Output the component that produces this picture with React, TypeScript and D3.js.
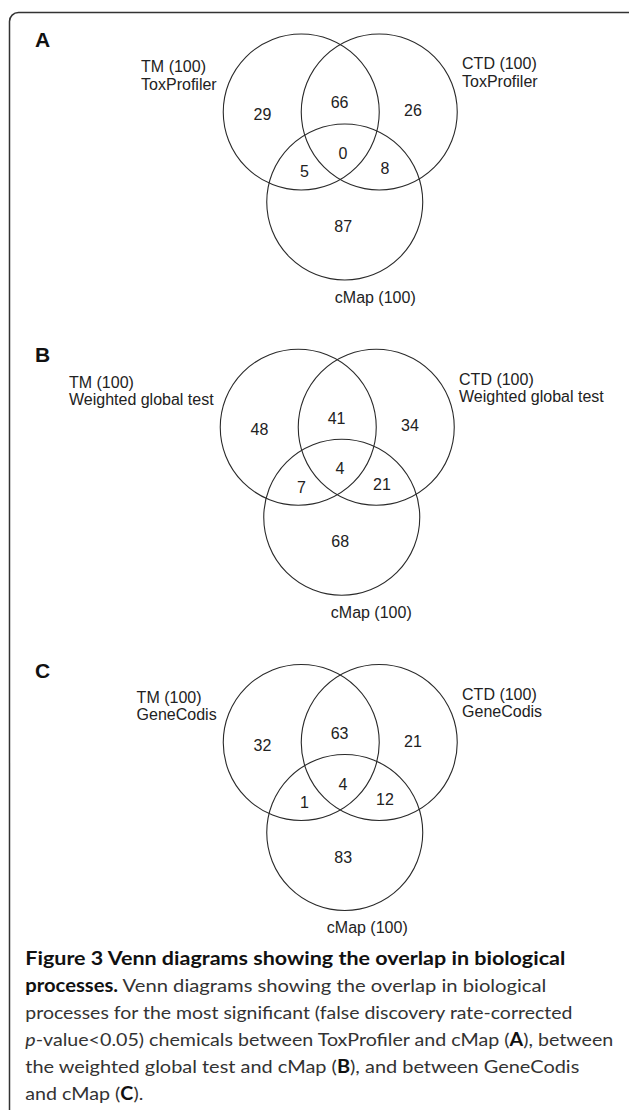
import React, { useEffect, useRef } from "react";
import * as d3 from "d3";

// ---- data ----
const panelLetters = ["A", "B", "C"];
const methodNames = ["ToxProfiler", "Weighted global test", "GeneCodis"];
const setNames = ["TM", "CTD", "cMap"];
const setSizes = [100, 100, 100];
const onlyTM = [29, 48, 32];
const onlyCTD = [26, 34, 21];
const onlyCMap = [87, 68, 83];
const tmAndCTD = [66, 41, 63];
const tmAndCMap = [5, 7, 1];
const ctdAndCMap = [8, 21, 12];
const allThree = [0, 4, 4];

const captionLines: { t: string; s?: "b" | "i" }[][] = [
  [{ t: "Figure 3 Venn diagrams showing the overlap in biological", s: "b" }],
  [{ t: "processes.", s: "b" }, { t: " Venn diagrams showing the overlap in biological" }],
  [{ t: "processes for the most significant (false discovery rate-corrected" }],
  [{ t: "p", s: "i" }, { t: "-value<0.05) chemicals between ToxProfiler and cMap (" }, { t: "A", s: "b" }, { t: "), between" }],
  [{ t: "the weighted global test and cMap (" }, { t: "B", s: "b" }, { t: "), and between GeneCodis" }],
  [{ t: "and cMap (" }, { t: "C", s: "b" }, { t: ")." }],
];
const captionWidths = [540, 521, 547, 588, 554, 118];

const W = 629;
const H = 1110;

export default function App() {
  const ref = useRef<SVGSVGElement | null>(null);

  useEffect(() => {
    document.body.style.margin = "0";
    const svg = d3.select(ref.current);
    svg.selectAll("*").remove();

    // frame
    svg
      .append("rect")
      .attr("x", 9.5)
      .attr("y", 12.5)
      .attr("width", 640)
      .attr("height", 1130)
      .attr("rx", 9)
      .attr("fill", "none")
      .attr("stroke", "#333")
      .attr("stroke-width", 1.5);

    const panelY = d3.scaleLinear().domain([0, 2]).range([112, 742.5]);
    const panelXShift = [0, -3, 0];
    const r = 78;
    const font = "'Liberation Sans', Arial, sans-serif";

    panelLetters.forEach((letter, i) => {
      const ox = 340.25 + panelXShift[i];
      const oy = panelY(i);
      const g = svg.append("g").attr("transform", `translate(${ox},${oy})`);

      svg
        .append("text")
        .attr("x", 35)
        .attr("y", oy - 65)
        .attr("font-family", font)
        .attr("font-weight", "bold")
        .attr("font-size", 21)
        .attr("fill", "#111")
        .text(letter);

      const circles = [
        { cx: -39, cy: 0 },
        { cx: 39, cy: 0 },
        { cx: 4.5, cy: 90 },
      ];
      g.selectAll("circle")
        .data(circles)
        .join("circle")
        .attr("cx", (d) => d.cx)
        .attr("cy", (d) => d.cy)
        .attr("r", r)
        .attr("fill", "none")
        .attr("stroke", "#2a2a2a")
        .attr("stroke-width", 1.1);

      const regions = [
        { v: onlyTM[i], x: -77.8, y: 2.4 },
        { v: tmAndCTD[i], x: -0.7, y: -9.5 },
        { v: onlyCTD[i], x: 72.7, y: -1.8 },
        { v: allThree[i], x: 2.7, y: 41.2 },
        { v: tmAndCMap[i], x: -35.7, y: 59.6 },
        { v: ctdAndCMap[i], x: 44.7, y: 56.5 },
        { v: onlyCMap[i], x: 3, y: 114.2 },
      ];
      g.selectAll("text.num")
        .data(regions)
        .join("text")
        .attr("class", "num")
        .attr("x", (d) => d.x)
        .attr("y", (d) => d.y + 5.8)
        .attr("text-anchor", "middle")
        .attr("font-family", font)
        .attr("font-size", 16)
        .attr("fill", "#222")
        .text((d) => String(d.v));

      // TM label block (right edge of block at -123.6)
      const tmLines = [`${setNames[0]} (${setSizes[0]})`, methodNames[i]];
      const tmG = g.append("g");
      const tmTexts = tmG
        .selectAll("text")
        .data(tmLines)
        .join("text")
        .attr("y", (_d, k) => -45.5 + 5.8 + k * 17.5)
        .attr("font-family", font)
        .attr("font-size", 16)
        .attr("fill", "#222")
        .text((d) => d);
      let maxW = 0;
      tmTexts.each(function () {
        maxW = Math.max(maxW, (this as SVGTextElement).getComputedTextLength());
      });
      tmTexts.attr("x", -123.6 - maxW);

      const ctdLines = [`${setNames[1]} (${setSizes[1]})`, methodNames[i]];
      g.append("g")
        .selectAll("text")
        .data(ctdLines)
        .join("text")
        .attr("x", 121.8)
        .attr("y", (_d, k) => -48.5 + 5.8 + k * 17.5)
        .attr("font-family", font)
        .attr("font-size", 16)
        .attr("fill", "#222")
        .text((d) => d);

      const cmapOffsets = [35, 34, 27];
      g.append("text")
        .attr("x", cmapOffsets[i])
        .attr("y", 185 + 5.8)
        .attr("text-anchor", "middle")
        .attr("font-family", font)
        .attr("font-size", 16)
        .attr("fill", "#222")
        .text(`${setNames[2]} (${setSizes[2]})`);
    });

    // caption
    const capY = d3.scaleLinear().domain([0, 5]).range([965, 1100]);
    captionLines.forEach((line, li) => {
      const t = svg
        .append("text")
        .attr("x", 25.3)
        .attr("y", capY(li))
        .attr("font-family", "Lato, 'Open Sans', sans-serif")
        .attr("font-size", 18)
        .attr("fill", "#2b2b2b")
        .attr("textLength", captionWidths[li])
        .attr("lengthAdjust", "spacingAndGlyphs");
      line.forEach((seg) => {
        t.append("tspan")
          .attr("font-weight", seg.s === "b" ? "bold" : "normal")
          .attr("font-style", seg.s === "i" ? "italic" : "normal")
          .attr("fill", seg.s === "b" ? "#111" : "#333")
          .text(seg.t);
      });
    });
  }, []);

  return <svg ref={ref} width={W} height={H} style={{ display: "block", background: "#fff" }} />;
}
